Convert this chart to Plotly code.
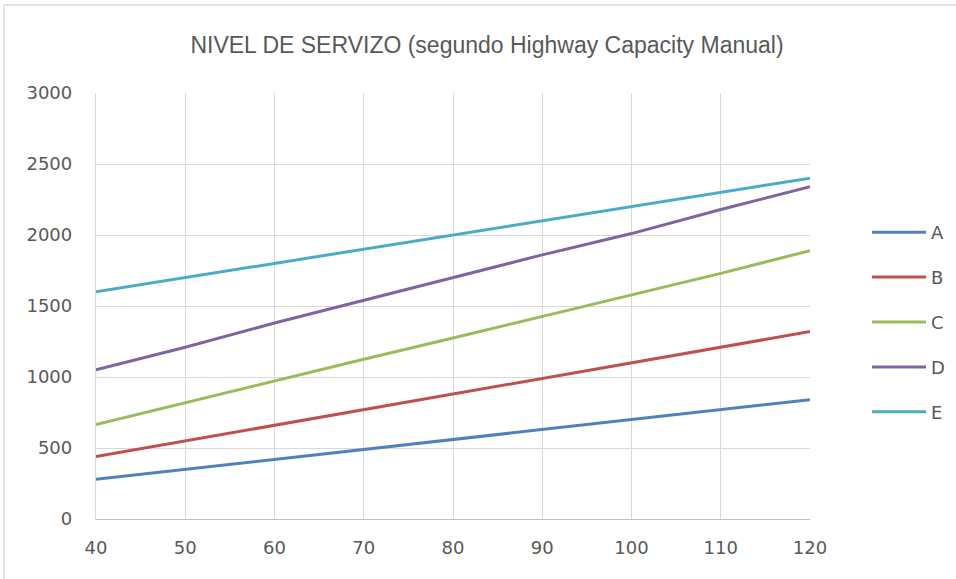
import plotly.graph_objects as go

# Speed values (x) and flow per service level
velocidade = [40, 50, 60, 70, 80, 90, 100, 110, 120]
nivel_a = [280, 350, 420, 490, 560, 630, 700, 770, 840]
nivel_b = [440, 550, 660, 770, 880, 990, 1100, 1210, 1320]
nivel_c = [665, 820, 970, 1125, 1275, 1425, 1580, 1730, 1890]
nivel_d = [1050, 1210, 1380, 1540, 1700, 1860, 2010, 2180, 2340]
nivel_e = [1600, 1700, 1800, 1900, 2000, 2100, 2200, 2300, 2400]

series = [
    ("A", nivel_a, "#4F81BD"),
    ("B", nivel_b, "#C0504D"),
    ("C", nivel_c, "#9BBB59"),
    ("D", nivel_d, "#8064A2"),
    ("E", nivel_e, "#4BACC6"),
]

W, H = 956, 579
L, R, T, B = 96, 146, 93, 60
FONT = "DejaVu Sans"
TITLE_FONT = "Liberation Sans"
GREY = "#595959"

fig = go.Figure()
for name, vals, col in series:
    fig.add_trace(go.Scatter(
        x=velocidade, y=vals, name=name, mode="lines",
        line=dict(color=col, width=3),
        legendgroup=name,
    ))

pw, ph = W - L - R, H - T - B

fig.update_layout(
    width=W, height=H,
    margin=dict(l=L, r=R, t=T, b=B, autoexpand=False),
    paper_bgcolor="white", plot_bgcolor="white",
    font=dict(family=FONT, color=GREY, size=18),
    title=dict(
        text="NIVEL DE SERVIZO (segundo Highway Capacity Manual)",
        x=487 / W, xanchor="center", y=1 - 45 / H, yanchor="middle",
        font=dict(family=TITLE_FONT, size=23, color=GREY),
    ),
    xaxis=dict(
        range=[40, 120], tickvals=velocidade, showgrid=True,
        gridcolor="#D9D9D9", gridwidth=1.3,
        showline=True, linecolor="#BFBFBF", linewidth=1.3,
        zeroline=False, ticks="outside", ticklen=12, tickcolor="rgba(0,0,0,0)",
        tickfont=dict(size=18, color=GREY),
    ),
    yaxis=dict(
        range=[0, 3000], dtick=500, showgrid=True,
        gridcolor="#D9D9D9", gridwidth=1.3,
        showline=True, linecolor="#D9D9D9", linewidth=1.3,
        zeroline=False, ticks="outside", ticklen=19, tickcolor="rgba(0,0,0,0)",
        tickfont=dict(size=18, color=GREY),
    ),
    legend=dict(
        x=(867 - L) / pw, xanchor="left",
        y=1 - (214 - T) / ph, yanchor="top",
        traceorder="grouped", tracegroupgap=18.5,
        itemwidth=54,
        font=dict(size=18, color=GREY),
        bgcolor="rgba(0,0,0,0)",
    ),
    shapes=[dict(
        type="rect", xref="paper", yref="paper",
        x0=(4 - L) / pw, x1=(W + 5 - L) / pw,
        y0=-(H + 5 - T - ph) / ph, y1=1 + (T - 5) / ph,
        line=dict(color="#D9D9D9", width=1.3), layer="below",
    )],
)

fig.write_html("out.html")
